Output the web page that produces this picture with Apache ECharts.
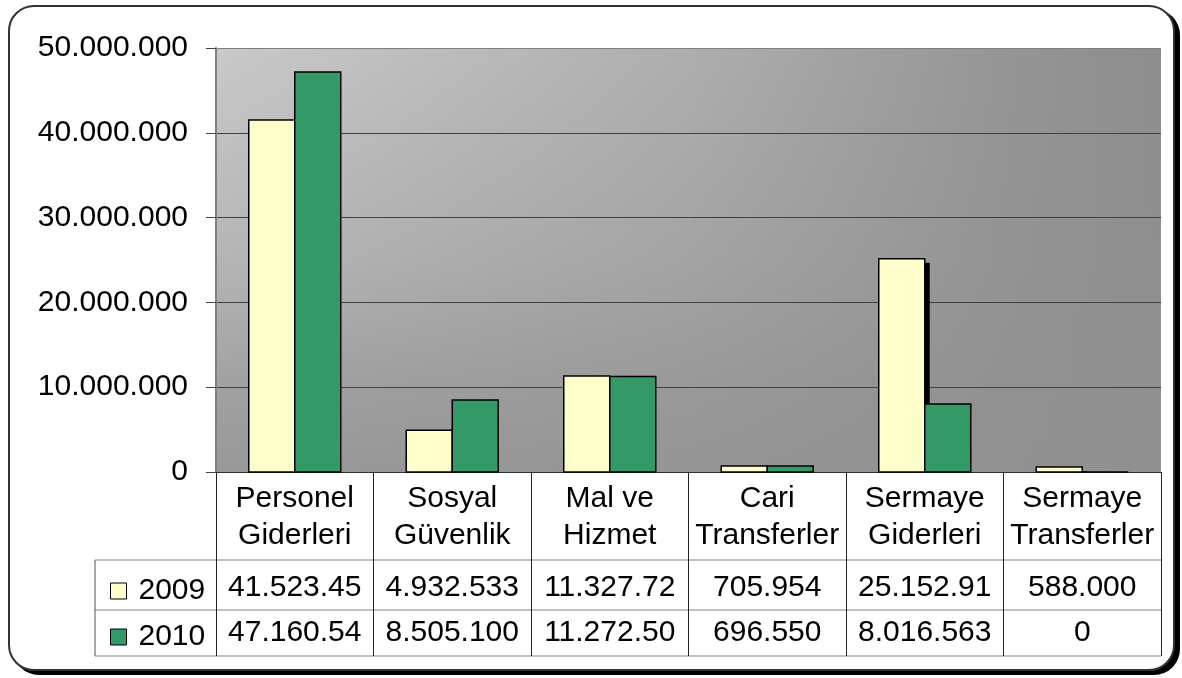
<!DOCTYPE html>
<html>
<head>
<meta charset="utf-8">
<script src="https://cdn.jsdelivr.net/npm/echarts@6/dist/echarts.min.js"></script>
<style>
  html, body { margin: 0; padding: 0; background: #fff; }
  #frame { position: absolute; left: 8px; top: 5px; width: 1163px; height: 662px;
           border: 2px solid #333; border-radius: 26px; box-shadow: 5px 4px 0 #000; background: #fff; }
  #chart { position: absolute; left: 0; top: 0; width: 1182px; height: 678px; }
</style>
</head>
<body>
<div id="frame"></div>
<div id="chart"></div>
<script>
  // kategoriler ve değerler
  var categories = ['Personel\nGiderleri', 'Sosyal\nGüvenlik', 'Mal ve\nHizmet', 'Cari\nTransferler', 'Sermaye\nGiderleri', 'Sermaye\nTransferler'];
  var years = ['2009', '2010'];
  var v2009 = [41523450, 4932533, 11327720, 705954, 25152910, 588000];
  var v2010 = [47160540, 8505100, 11272500, 696550, 8016563, 0];
  var yTicks = [0, 10000000, 20000000, 30000000, 40000000, 50000000];

  var FONT = 'Liberation Sans, Arial, sans-serif';
  var FS = 30;
  var L = 216, R = 1161, T = 48, B = 472;   // plot area
  var tabLeft = 95, rowY = [560, 610, 656];
  var barW = 46;

  function dots(n) {
    return String(Math.round(n)).replace(/\B(?=(\d{3})+(?!\d))/g, '.');
  }
  // excel hücreyi keser
  function cell(n) { return dots(n).slice(0, 9); }

  var chart = echarts.init(document.getElementById('chart'));

  var tableAxis = function (vals, off) {
    return {
      type: 'category', gridIndex: 0, position: 'bottom', offset: off,
      data: vals.map(cell),
      axisLine: { show: false }, axisTick: { show: false }, splitLine: { show: false },
      axisLabel: { interval: 0, margin: 8, fontSize: FS, lineHeight: FS, color: '#000', fontFamily: FONT }
    };
  };

  // side: -1 sol çubuk, 0 sağ çubuk
  function barSeries(name, vals, color, side, shadow) {
    return {
      name: name, type: 'custom',
      itemStyle: { color: color, borderColor: '#000', borderWidth: 1 },
      encode: { x: 0, y: 1 },
      data: vals.map(function (v, i) { return [i, v]; }),
      renderItem: function (params, api) {
        var base = api.coord([api.value(0), 0]);
        var top = api.coord([api.value(0), api.value(1)]);
        var x = base[0] + side * barW;
        var h = base[1] - top[1];
        var kids = [];
        if (shadow) {
          kids.push({ type: 'rect', shape: { x: x + 5, y: top[1] + 4, width: barW, height: Math.max(h - 4, 0) },
                      style: { fill: '#000' } });
        }
        kids.push({ type: 'rect', shape: { x: x, y: top[1], width: barW, height: h },
                    style: { fill: color, stroke: '#000', lineWidth: 1.5 } });
        return { type: 'group', children: kids };
      }
    };
  }

  chart.setOption({
    animation: false,
    grid: {
      left: L, right: 1182 - R, top: T, bottom: 678 - B,
      show: true, borderWidth: 0,
      backgroundColor: new echarts.graphic.LinearGradient(0, 0, 1, 0, [
        { offset: 0, color: '#c9c9c9' },
        { offset: 0.5, color: '#aeaeae' },
        { offset: 0.85, color: '#949494' },
        { offset: 1, color: '#8e8e8e' }
      ])
    },
    legend: {
      orient: 'vertical', left: 105, top: 571,
      itemWidth: 16, itemHeight: 16, itemGap: 16, icon: 'rect',
      data: years,
      textStyle: { fontSize: FS, lineHeight: FS, color: '#000', fontFamily: FONT, padding: [0, 0, 0, 7] },
      itemStyle: { borderColor: '#000', borderWidth: 1 }
    },
    xAxis: [{
      type: 'category', data: categories,
      axisLine: { lineStyle: { color: '#333', width: 1 } },
      axisTick: { show: true, interval: 0, length: 184, lineStyle: { color: '#222', width: 1 } },
      axisLabel: { interval: 0, margin: 8, fontSize: FS, lineHeight: 37, color: '#000', fontFamily: FONT }
    }, tableAxis(v2009, 93), tableAxis(v2010, 138)],
    yAxis: {
      type: 'value', min: 0, max: 50000000, interval: 10000000,
      axisLine: { show: true, lineStyle: { color: '#808080', width: 2 } },
      axisTick: { show: true, length: 10, lineStyle: { color: '#444' } },
      splitLine: { lineStyle: { color: ['#404040', '#404040', '#404040', '#404040', '#404040', '#808080'], width: 1 } },
      axisLabel: {
        margin: 28, fontSize: FS, color: '#000', fontFamily: FONT,
        formatter: function (v) { return yTicks.indexOf(v) >= 0 ? dots(v) : ''; }
      }
    },
    series: [
      barSeries(years[0], v2009, '#ffffcc', -1, true),
      barSeries(years[1], v2010, '#339966', 0, false)
    ],
    graphic: [
      // dikey kararma katmanı (ızgara çizgilerinin altında)
      { type: 'rect', silent: true, z: 0, z2: -0.5,
        shape: { x: L, y: T, width: R - L, height: B - T },
        style: { fill: new echarts.graphic.LinearGradient(0, 0, 0, 1, [
          { offset: 0, color: 'rgba(144,144,144,0)' },
          { offset: 0.5, color: 'rgba(144,144,144,0.35)' },
          { offset: 0.8, color: 'rgba(144,144,144,0.7)' },
          { offset: 1, color: 'rgba(144,144,144,0.85)' }
        ]) } },
      { type: 'line', shape: { x1: tabLeft, y1: rowY[0], x2: R, y2: rowY[0] }, style: { stroke: '#808080', lineWidth: 1 } },
      { type: 'line', shape: { x1: tabLeft, y1: rowY[1], x2: R, y2: rowY[1] }, style: { stroke: '#808080', lineWidth: 1 } },
      { type: 'line', shape: { x1: tabLeft, y1: rowY[2], x2: R, y2: rowY[2] }, style: { stroke: '#808080', lineWidth: 1 } },
      { type: 'line', shape: { x1: tabLeft, y1: rowY[0], x2: tabLeft, y2: rowY[2] }, style: { stroke: '#555', lineWidth: 1 } }
    ]
  });
</script>
</body>
</html>
